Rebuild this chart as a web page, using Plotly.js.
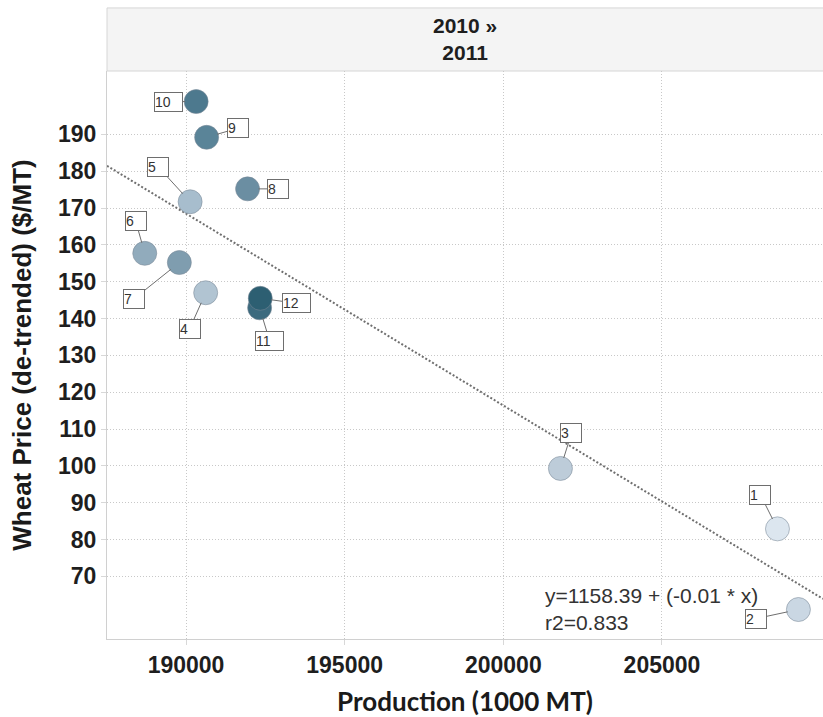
<!DOCTYPE html>
<html>
<head>
<meta charset="utf-8">
<script src="https://cdn.plot.ly/plotly-3.0.1.min.js"></script>
<style>
  html, body { margin: 0; padding: 0; background: #ffffff; }
  #chart { width: 823px; height: 717px; }
</style>
</head>
<body>
<div id="chart"></div>
<script>
// Monthly wheat production vs. de-trended price, 2010 » 2011
const months = ['1', '2', '3', '4', '5', '6', '7', '8', '9', '10', '11', '12'];
const production = [208640, 209300, 201800, 190620, 190130, 188700, 189790, 191940, 190650, 190320, 192320, 192340];
const price = [82.9, 61.0, 99.3, 147.0, 171.7, 157.7, 155.2, 175.2, 189.2, 198.9, 142.9, 145.5];

// Linear trend fitted to the twelve months
const trendIntercept = 1158.39;
const trendSlope = -0.00521;
const trendR2 = 0.833;

const xTicks = [190000, 195000, 200000, 205000];
const yTicks = [70, 80, 90, 100, 110, 120, 130, 140, 150, 160, 170, 180, 190];

// Sequential month shading, light (January) to dark (December)
const monthColors = ['#dce6ef', '#cad7e3', '#bdccd9', '#b1c4d2', '#a7bdcd', '#91abbc',
                     '#7f9daf', '#6b8ea2', '#5a8498', '#4d798e', '#3c6a7e', '#2d5f72'];

// Label box offsets (px) from each circle
const labelOffsets = [[-17, -34], [-42, 9], [11, -35], [-16, 36], [-32, -35], [-9, -32],
                      [-45, 36], [30, 0], [31, -9], [-28, 0], [10, 33], [36, 5]];

const xRange = [187510, 210075];
const yRange = [53.0, 207.2];

const trendX = xRange.slice();
const trendY = trendX.map(v => trendIntercept + trendSlope * v);

const traces = [
  {
    type: 'scatter', mode: 'lines', x: trendX, y: trendY,
    line: { color: '#6f6f6f', width: 2, dash: '2px,2px' },
    hoverinfo: 'skip', showlegend: false, cliponaxis: true
  },
  {
    type: 'scatter', mode: 'markers', x: production, y: price, text: months,
    marker: {
      size: 24, color: monthColors, opacity: 1,
      line: { color: 'rgba(120,135,150,0.55)', width: 1 }
    },
    showlegend: false, cliponaxis: false
  }
];

const labelFont = { family: 'Arial, "Liberation Sans", sans-serif', size: 14, color: '#333333' };
const annotations = months.map((m, i) => ({
  x: production[i], y: price[i], xref: 'x', yref: 'y',
  text: m, showarrow: true, arrowhead: 0, arrowwidth: 1, arrowcolor: '#6e6e6e',
  ax: labelOffsets[i][0], ay: labelOffsets[i][1], standoff: 11,
  bgcolor: '#ffffff', bordercolor: '#6e6e6e', borderwidth: 1, borderpad: 0,
  width: m.length > 1 ? 27 : 20, height: 18, align: 'left', valign: 'middle',
  font: labelFont
}));

annotations.push({
  xref: 'paper', yref: 'paper', x: 0.6085, y: 0.052, xanchor: 'left', yanchor: 'middle',
  showarrow: false, align: 'left',
  text: 'y=' + trendIntercept.toFixed(2) + ' + (' + trendSlope.toFixed(2) + ' * x)<br>r2=' + trendR2.toFixed(3),
  font: { family: 'Arial, "Liberation Sans", sans-serif', size: 21, color: '#333333' }
});

// Header band with the period label
annotations.push({
  xref: 'paper', yref: 'paper', x: 0.5, y: 1.0555, xanchor: 'center', yanchor: 'middle',
  showarrow: false, align: 'center',
  text: '<b>2010 »</b><br><b>2011</b>',
  font: { family: 'Arial, "Liberation Sans", sans-serif', size: 21, color: '#1e1e1e' }
});

const tickFont = { family: 'Arial, "Liberation Sans", sans-serif', size: 23, color: '#1e1e1e', weight: 'bold' };

const layout = {
  width: 823, height: 717,
  margin: { l: 107, r: 0, t: 71, b: 78 },
  paper_bgcolor: '#ffffff', plot_bgcolor: '#ffffff',
  showlegend: false,
  xaxis: {
    range: xRange, tickvals: xTicks, ticktext: xTicks.map(String),
    showgrid: true, gridcolor: '#c8c8c8', griddash: '1px,2px', gridwidth: 1,
    zeroline: false, showline: true, linecolor: '#d0d0d0', linewidth: 1,
    ticks: 'outside', ticklen: 5, tickcolor: '#d8d8d8',
    tickfont: tickFont,
    title: {
      text: 'Production (1000 MT)', standoff: 18,
      font: { family: 'Lato, "Open Sans", sans-serif', size: 26, color: '#1a1a1a', weight: 'bold' }
    }
  },
  yaxis: {
    range: yRange, tickvals: yTicks, ticktext: yTicks.map(String),
    showgrid: true, gridcolor: '#c8c8c8', griddash: '1px,2px', gridwidth: 1,
    zeroline: false, showline: true, linecolor: '#d0d0d0', linewidth: 1,
    ticks: 'outside', ticklen: 5, tickcolor: '#d8d8d8',
    tickfont: tickFont,
    title: {
      text: 'Wheat Price (de-trended) ($/MT)', standoff: 18,
      font: { family: 'Arial, "Liberation Sans", sans-serif', size: 26, color: '#1a1a1a', weight: 'bold' }
    }
  },
  shapes: [
    {
      type: 'rect', xref: 'paper', yref: 'paper', x0: 0, x1: 1.01, y0: 1, y1: 1.111,
      fillcolor: '#f4f4f4', line: { color: '#d6d6d6', width: 1 }, layer: 'below'
    }
  ],
  annotations: annotations
};

Plotly.newPlot('chart', traces, layout, { displayModeBar: false, staticPlot: true });
</script>
</body>
</html>
